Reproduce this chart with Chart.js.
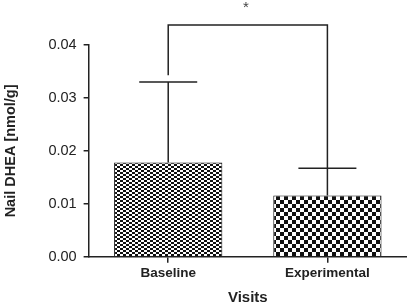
<!DOCTYPE html>
<html>
<head>
<meta charset="utf-8">
<script src="https://cdn.jsdelivr.net/npm/chart.js@4"></script>
<style>
  html, body { margin: 0; padding: 0; background: #fff; }
  #wrap { width: 407px; height: 304px; }
</style>
</head>
<body>
<div id="wrap"><canvas id="chart"></canvas></div>
<script>
const categories = ["Baseline", "Experimental"]
const means      = [0.0178, 0.0116]
const upperSD    = [0.0330, 0.0167]
const yTicks     = [0.00, 0.01, 0.02, 0.03, 0.04]
const bracketTop  = 0.0438
const bracketEnds = [0.0343, 0.0167]
const bracketMark = "*"

const ink = "#222"
const font = "'Liberation Sans', Arial, sans-serif"

function checker(cw, ch) {
  const c = document.createElement("canvas")
  c.width = cw * 2
  c.height = ch * 2
  const g = c.getContext("2d")
  g.fillStyle = "#fff"
  g.fillRect(0, 0, c.width, c.height)
  g.fillStyle = "#111"
  g.fillRect(0, 0, cw, ch)
  g.fillRect(cw, ch, cw, ch)
  return g.createPattern(c, "repeat")
}

const fills = [checker(3, 2), checker(4, 4)]

const errorBars = {
  id: "errorBars",
  afterDatasetsDraw(chart) {
    const { ctx, scales: { x, y } } = chart
    ctx.save()
    ctx.strokeStyle = ink
    ctx.lineWidth = 1.5
    categories.forEach((c, i) => {
      const cx = x.getPixelForValue(i)
      const y0 = y.getPixelForValue(means[i])
      const y1 = y.getPixelForValue(upperSD[i])
      ctx.beginPath()
      ctx.moveTo(cx, y0)
      ctx.lineTo(cx, y1)
      ctx.moveTo(cx - 29, y1)
      ctx.lineTo(cx + 29, y1)
      ctx.stroke()
    })
    // significance bracket
    const xl = x.getPixelForValue(0)
    const xr = x.getPixelForValue(1)
    const yt = y.getPixelForValue(bracketTop)
    ctx.beginPath()
    ctx.moveTo(xl, y.getPixelForValue(bracketEnds[0]))
    ctx.lineTo(xl, yt)
    ctx.lineTo(xr, yt)
    ctx.lineTo(xr, y.getPixelForValue(bracketEnds[1]))
    ctx.stroke()
    ctx.fillStyle = "#444"
    ctx.font = "15px " + font
    ctx.textAlign = "center"
    ctx.textBaseline = "top"
    ctx.fillText(bracketMark, (xl + xr) / 2 - 2, 0)
    ctx.restore()
  }
}

new Chart(document.getElementById("chart"), {
  type: "bar",
  data: {
    labels: categories,
    datasets: [{
      data: means,
      backgroundColor: fills,
      borderColor: "#111",
      borderWidth: 1,
      barPercentage: 0.68,
      categoryPercentage: 1.0
    }]
  },
  options: {
    responsive: true,
    maintainAspectRatio: false,
    animation: false,
    layout: { padding: { top: 45, right: 0, left: 2, bottom: 0 } },
    plugins: { legend: { display: false }, tooltip: { enabled: false } },
    scales: {
      x: {
        grid: { offset: false, drawOnChartArea: false, color: ink, tickLength: 6, lineWidth: 1.5 },
        border: { color: ink, width: 1.5 },
        ticks: {
          color: ink,
          padding: 2,
          font: { family: font, size: 13.5, weight: "bold" }
        },
        title: {
          display: true,
          text: "Visits",
          color: ink,
          padding: { top: 6, bottom: -3 },
          font: { family: font, size: 15, weight: "bold" }
        }
      },
      y: {
        min: 0,
        max: 0.04,
        afterBuildTicks: axis => { axis.ticks = yTicks.map(v => ({ value: v })) },
        grid: { drawOnChartArea: false, color: ink, tickLength: 5, lineWidth: 1.5 },
        border: { color: ink, width: 1.5 },
        ticks: {
          color: ink,
          padding: 7,
          font: { family: font, size: 14.5 },
          callback: v => v.toFixed(2)
        },
        title: {
          display: true,
          text: "Nail DHEA [nmol/g]",
          color: ink,
          padding: { top: 0, bottom: 22 },
          font: { family: font, size: 14.5, weight: "bold" }
        }
      }
    }
  },
  plugins: [errorBars]
})
</script>
</body>
</html>
